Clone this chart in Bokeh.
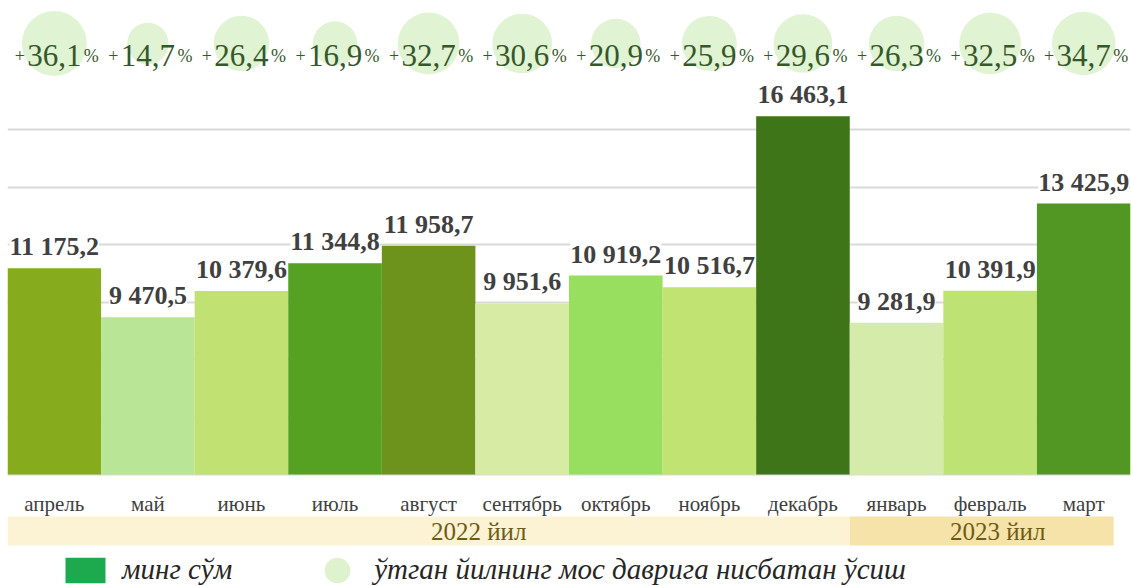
import math
from bokeh.plotting import figure
from bokeh.models import (ColumnDataSource, Range1d, FixedTicker, LabelSet,
                          Legend, LegendItem)
from bokeh.core.properties import value
from bokeh.embed import file_html
from bokeh.resources import INLINE

# ---------------- data ----------------
months = ["апрель", "май", "июнь", "июль", "август", "сентябрь",
          "октябрь", "ноябрь", "декабрь", "январь", "февраль", "март"]
amounts = [11175.2, 9470.5, 10379.6, 11344.8, 11958.7, 9951.6,
           10919.2, 10516.7, 16463.1, 9281.9, 10391.9, 13425.9]
growth = [36.1, 14.7, 26.4, 16.9, 32.7, 30.6, 20.9, 25.9, 29.6, 26.3, 32.5, 34.7]
years = ["2022 йил", "2023 йил"]
year_months = [9, 3]
grid_ticks = [4000, 6000, 8000, 10000, 12000, 14000, 16000]
legend_labels = ["минг сўм", "ўтган йилнинг мос даврига нисбатан ўсиш"]

# ---------------- styles ----------------
bar_colors = ["#86AC1E", "#B9E596", "#C1E173", "#56A022", "#6D931C", "#D7EBA4",
              "#98DF5F", "#C1E371", "#3F7519", "#D4EBAA", "#BEE274", "#529623"]
band_colors = ["#FCF2D4", "#F6E3AA"]
W, H = 1131, 586
Y_FLOOR = 4000
PX_PER_UNIT = 0.02875
BASE_PAGE = 474          # pixel row of the axis floor


def V(py):
    """convert a pixel row of the figure to a y value"""
    return Y_FLOOR + (BASE_PAGE - py) / PX_PER_UNIT


p = figure(width=W, height=H, x_range=Range1d(0, len(months)),
           y_range=Range1d(V(H), V(0)), output_backend="svg",
           toolbar_location=None, x_axis_location=None, y_axis_location=None,
           min_border=0, min_border_left=7, min_border_right=1,
           outline_line_color=None,
           background_fill_color="white", border_fill_color="white")
p.xgrid.visible = False
p.ygrid.ticker = FixedTicker(ticks=grid_ticks)
p.ygrid.grid_line_color = "#D9D9D9"
p.ygrid.grid_line_width = 2

xs = [i + 0.5 for i in range(len(months))]


def fmt_amount(v):
    return f"{v:,.1f}".replace(",", " ").replace(".", ",")


src = ColumnDataSource(dict(
    x=xs, amount=amounts, color=bar_colors, month=months,
    label=[fmt_amount(v) for v in amounts],
    g=[f"{v:.1f}".replace(".", ",") for v in growth],
    gsize=[10.8 * math.sqrt(v) for v in growth],
))

# bars
p.vbar(x="x", top="amount", bottom=Y_FLOOR, width=1.0, fill_color="color",
       line_color=None, source=src)

# value labels
labels = LabelSet(x="x", y="amount", text="label", source=src, y_offset=7,
                  text_align="center", text_baseline="bottom",
                  text_font=value("Liberation Serif"), text_font_style="bold",
                  text_font_size="26px", text_color="#404040",
                  background_fill_color="white")
p.add_layout(labels)

# growth bubbles
p.scatter(x="x", y=V(43), size="gsize", marker="circle", fill_color="#DDF2CD",
          fill_alpha=0.9, line_color=None, source=src)
num_size = 31
half_w = 29.5
p.text(x="x", y=V(55), text="g", source=src, text_align="center",
       text_baseline="alphabetic", text_font=value("Liberation Serif"),
       text_font_size=f"{num_size}px", text_color="#35582A")
p.text(x="x", y=V(55), text=value("+"), source=src, text_align="right",
       x_offset=-half_w, text_baseline="alphabetic",
       text_font=value("Liberation Serif"), text_font_size="18px",
       text_color="#35582A")
p.text(x="x", y=V(55), text=value("%"), source=src, text_align="left",
       x_offset=half_w, text_baseline="alphabetic",
       text_font=value("Liberation Serif"), text_font_size="18px",
       text_color="#35582A")

# month labels
p.text(x="x", y=V(503), text="month", source=src, text_align="center",
       text_baseline="middle", text_font=value("Liberation Serif"),
       text_font_size="21px", text_color="#404040")

# year bands
lefts, rights = [], []
start = 0
for n in year_months:
    lefts.append(start)
    rights.append(start + n)
    start += n
rights[-1] -= 0.18
band_src = ColumnDataSource(dict(
    left=lefts, right=rights, color=band_colors, year=years,
    xc=[(a + b) / 2 for a, b in zip(lefts, rights)], dx=[50, 16]))
p.quad(left="left", right="right", bottom=V(545), top=V(516), fill_color="color",
       line_color=None, source=band_src)
p.text(x="xc", y=V(531), text="year", x_offset="dx", source=band_src,
       text_align="center", text_baseline="middle",
       text_font=value("Liberation Serif"), text_font_size="25px",
       text_color="#6E5C16")

# legend (dummy renderers placed outside the visible range)
sq = p.quad(left=[-3], right=[-2], top=[V(600)], bottom=[V(620)],
            fill_color="#1DAA4F", line_color=None)
circ = p.ellipse(x=[-5], y=[V(600)], width=10, height=10, width_units="screen",
                 height_units="screen", fill_color="#DDF2CD", line_color=None)
legend = Legend(items=[LegendItem(label=legend_labels[0], renderers=[sq]),
                       LegendItem(label=legend_labels[1], renderers=[circ])],
                orientation="horizontal", location=(53, 0),
                glyph_width=50, glyph_height=32, label_standoff=12, spacing=80,
                padding=0, margin=0, background_fill_alpha=0,
                border_line_color=None, label_text_font="Liberation Serif",
                label_text_font_style="italic", label_text_font_size="29px",
                label_text_color="#262626")
p.add_layout(legend)

open("out.html", "w").write(file_html(p, INLINE))
